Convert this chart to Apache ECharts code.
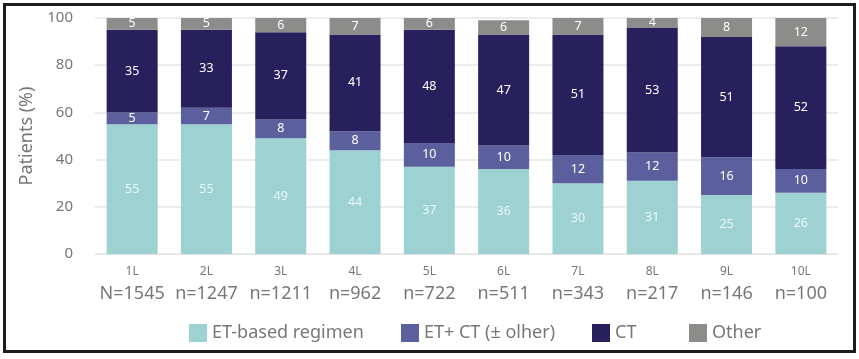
<!DOCTYPE html>
<html><head><meta charset="utf-8">
<script src="https://cdn.jsdelivr.net/npm/echarts@6/dist/echarts.min.js"></script>
<style>
html,body{margin:0;padding:0;background:#fff;}
#c{width:859px;height:359px;}
#frame{position:absolute;left:3px;top:3px;width:847px;height:344px;border:3px solid #1e1e1e;pointer-events:none;}
</style></head>
<body>
<div id="c"></div>
<div id="frame"></div>
<script>
const lines = ['1L','2L','3L','4L','5L','6L','7L','8L','9L','10L'];
const nLabels = ['N=1545','n=1247','n=1211','n=962','n=722','n=511','n=343','n=217','n=146','n=100'];
const seriesNames = ['ET-based regimen','ET+ CT (± olher)','CT','Other'];
const etBased = [55,55,49,44,37,36,30,31,25,26];
const etCt = [5,7,8,8,10,10,12,12,16,10];
const ct = [35,33,37,41,48,47,51,53,51,52];
const other = [5,5,6,7,6,6,7,4,8,12];
const yTicks = [0,20,40,60,80,100];

const font = '"Noto Sans", "Open Sans", sans-serif';
const chart = echarts.init(document.getElementById('c'));
function ser(name, data, color, labelColor){
  return {name, type:'bar', stack:'s', data, barWidth:51,
    itemStyle:{color},
    label:{show:true, position:'inside', color:labelColor, fontSize:12.5, fontFamily:font}};
}
const legendLeft = [184, 396, 587, 684];
chart.setOption({
  animation:false,
  grid:{left:95, right:21, top:18, bottom:105},
  xAxis:{type:'category', data:lines,
    axisLine:{show:true, lineStyle:{color:'#e3e3e3'}}, axisTick:{show:false},
    axisLabel:{interval:0, margin:8, fontFamily:font,
      formatter:(v,i)=>'{a|'+v+'}\n{b|'+nLabels[i]+'}',
      rich:{a:{fontSize:12, color:'#777', lineHeight:20, fontFamily:font},
            b:{fontSize:18, color:'#777', lineHeight:24, fontFamily:font}}}},
  yAxis:{type:'value', min:0, max:100, interval:20,
    name:'Patients (%)', nameLocation:'middle', nameGap:50, nameRotate:90,
    nameTextStyle:{fontSize:18, color:'#777', fontFamily:font},
    axisLabel:{fontSize:15, color:'#777', margin:22, fontFamily:font,
      formatter:v=>yTicks.includes(v)?String(v):''},
    splitLine:{lineStyle:{color:'#e6e6e6', width:1.5}}},
  legend: seriesNames.map((n,i)=>({data:[n], bottom:12, left:legendLeft[i],
    itemWidth:18, itemHeight:18, icon:'rect',
    textStyle:{fontSize:18, color:'#777', fontFamily:font}})),
  series:[
    ser(seriesNames[0], etBased, '#9dd1d2', '#eaf8f8'),
    ser(seriesNames[1], etCt, '#5c5f9d', '#ffffff'),
    ser(seriesNames[2], ct, '#27205d', '#ffffff'),
    ser(seriesNames[3], other, '#8c8c8a', '#ffffff')
  ]
});
</script>
</body></html>
